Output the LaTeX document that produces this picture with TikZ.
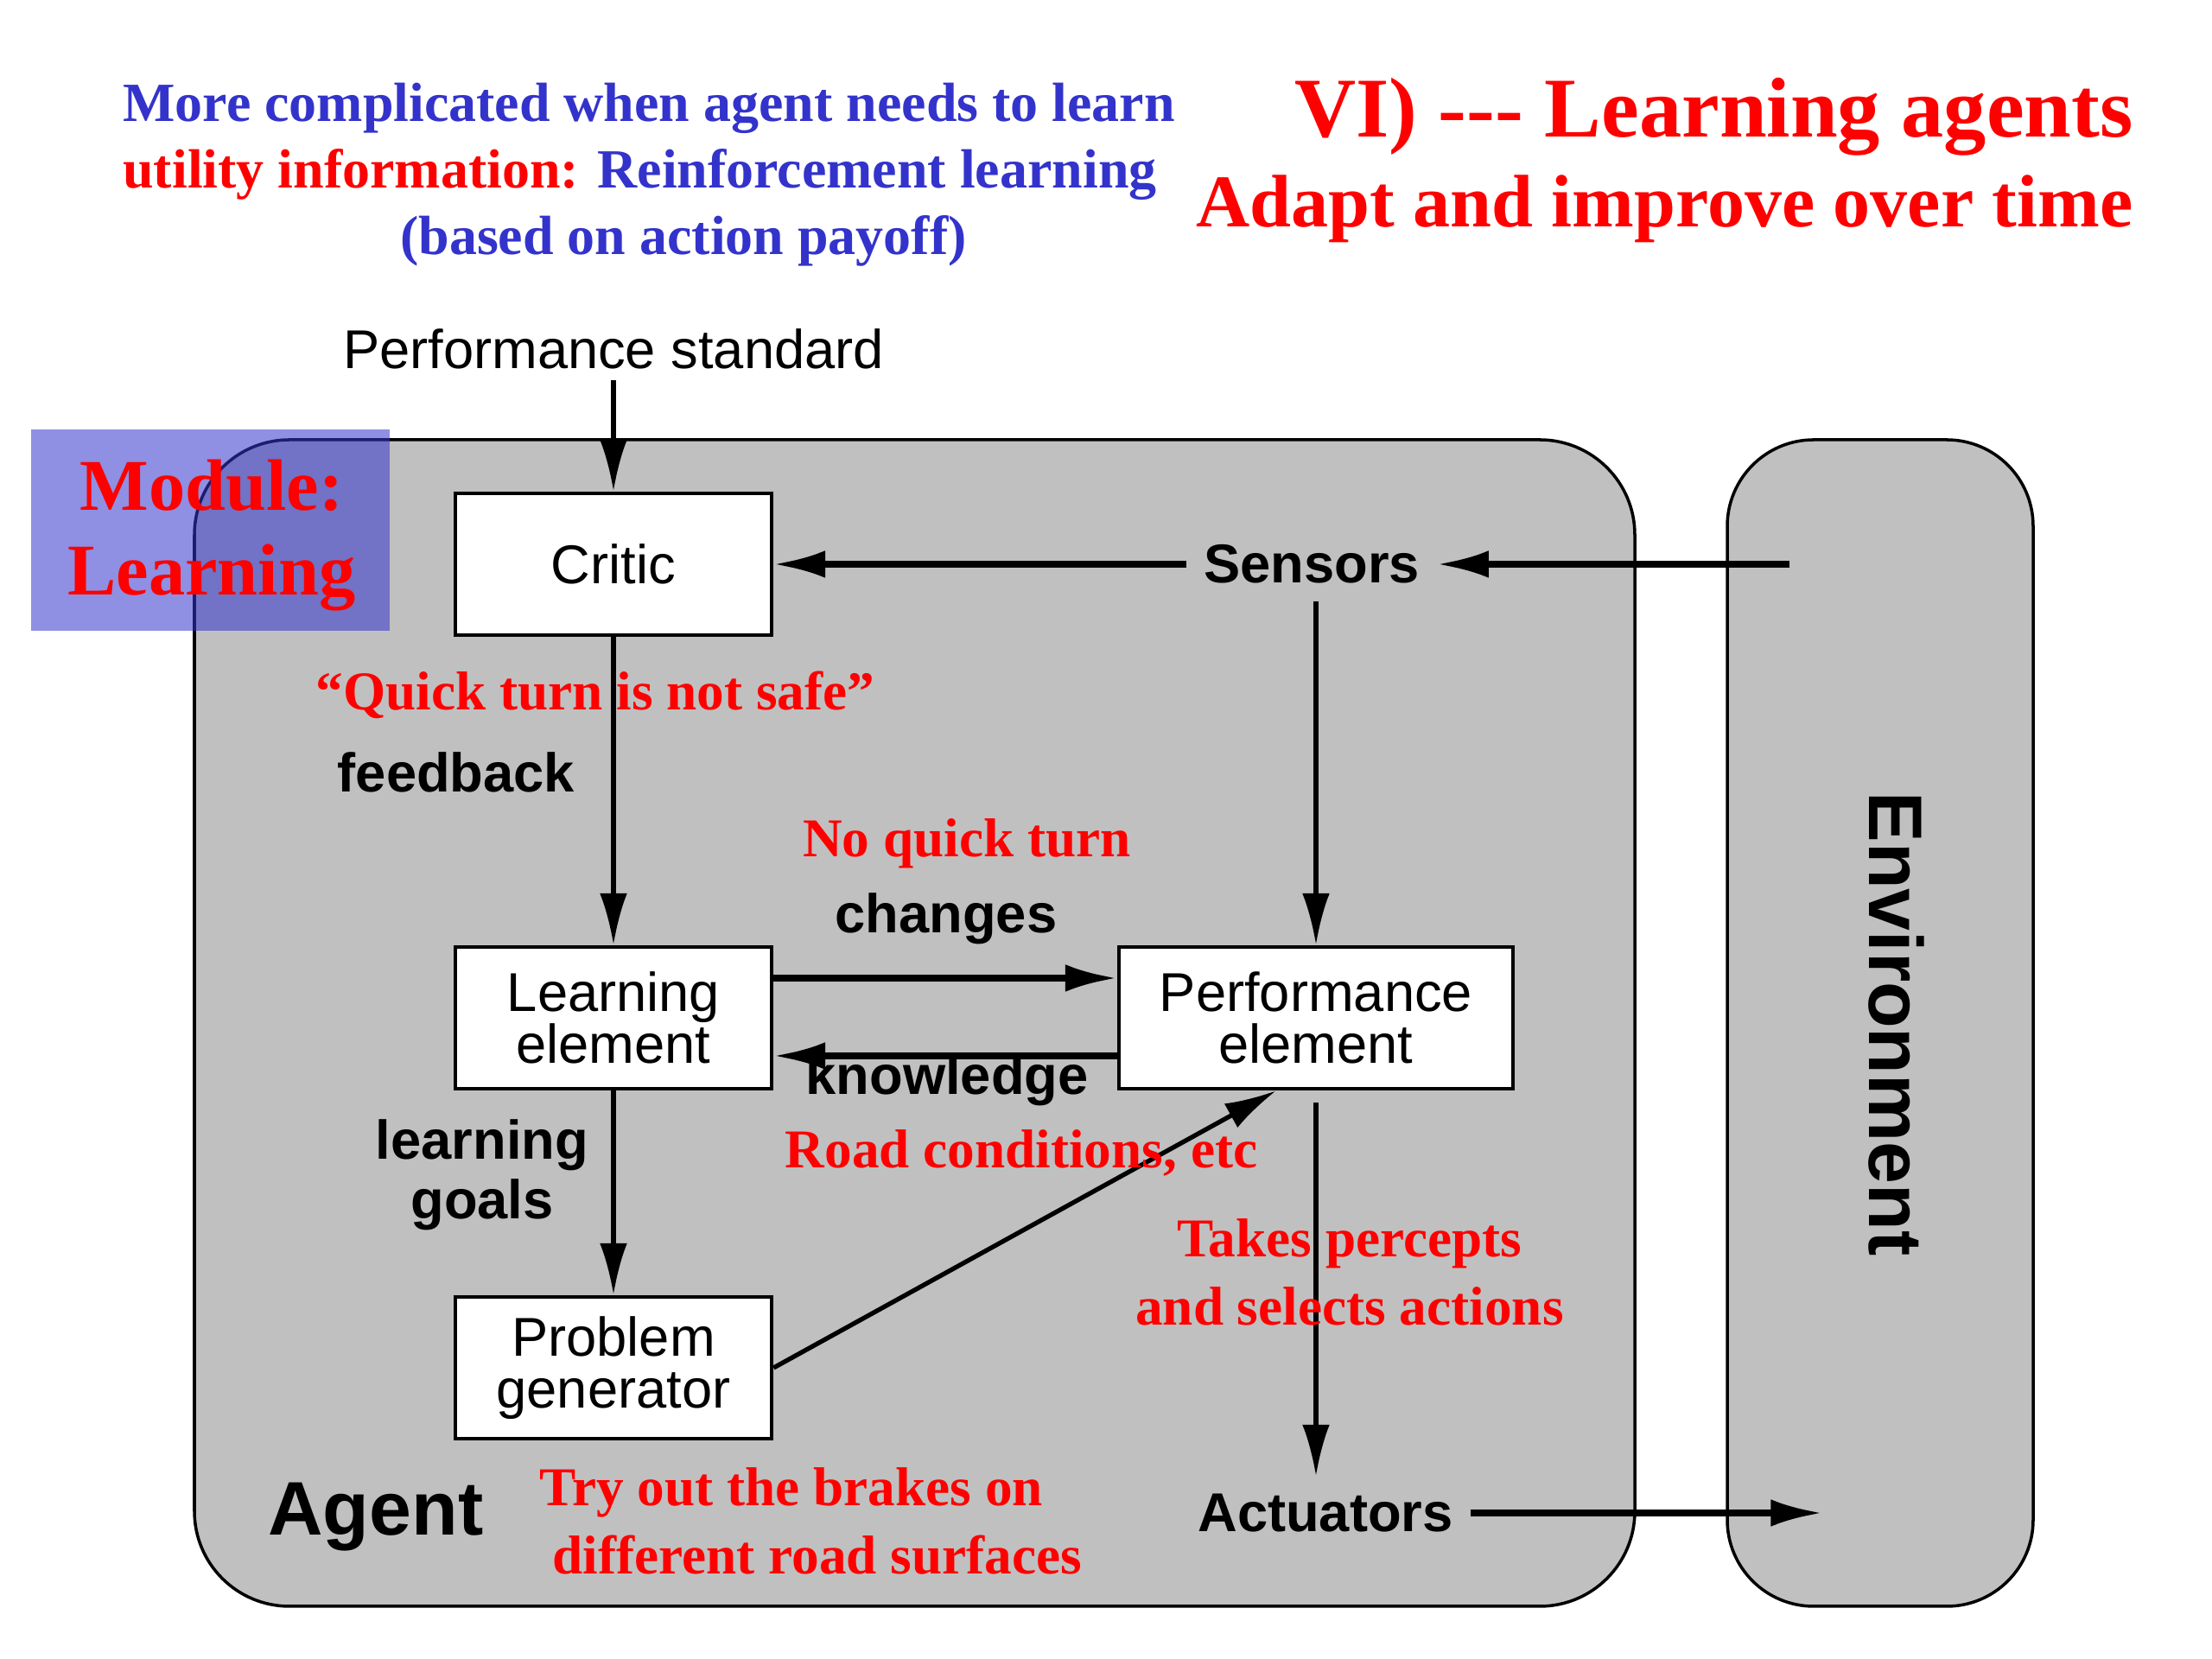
\documentclass[tikz,border=0pt]{standalone}
\usepackage{fontspec}
\setmainfont{Liberation Serif}
\setsansfont{Liberation Sans}
\usetikzlibrary{arrows.meta}
\definecolor{slideblue}{RGB}{51,51,204}
\definecolor{agentgray}{RGB}{192,192,192}
\tikzset{
  box/.style={draw, fill=white, line width=1.3pt, minimum width=3.66cm, minimum height=1.64cm,
    inner sep=0pt, align=center, font=\sffamily\fontsize{18}{17}\selectfont},
  lbl/.style={font=\sffamily\bfseries\fontsize{18}{20}\selectfont, align=center},
  note/.style={text=red, font=\bfseries\fontsize{18}{22.5}\selectfont, align=center},
  arr/.style={-{Latex[length=17pt,width=9pt]}, line width=1.5pt},
  thickarr/.style={arr, line width=2.1pt},
}
\begin{document}
\begin{tikzpicture}
\useasboundingbox (0,0) rectangle (25.6,19.2);

\node[anchor=base west, text=slideblue, font=\bfseries\fontsize{18.2}{22}\selectfont] (top1) at (1.3,17.79)
{More complicated when agent needs to learn};
\node[anchor=base west, text=slideblue, font=\bfseries\fontsize{18.2}{22}\selectfont] (top2) at (1.3,17.02)
{\textcolor{red}{utility information:} Reinforcement learning};
\node[anchor=base, text=slideblue, font=\bfseries\fontsize{18.2}{22}\selectfont] (top3) at (7.91,16.25)
{(based on action payoff)};

\node[anchor=base east, text=red, font=\bfseries\fontsize{28}{30}\selectfont] (title) at (24.81,17.61)
{VI) \mbox{-}\mbox{-}\mbox{-} Learning agents};
\node[anchor=base east, text=red, font=\bfseries\fontsize{24.5}{28}\selectfont] (subtitle) at (24.81,16.57)
{Adapt and improve over time};

\draw[fill=agentgray, line width=1pt, rounded corners=1.1cm] (2.25,0.61) rectangle (18.92,14.11);
\draw[fill=agentgray, line width=1pt, rounded corners=1cm] (19.99,0.61) rectangle (23.53,14.11);
\fill[slideblue, fill opacity=0.55] (0.36,11.90) rectangle (4.51,14.23);
\node[text=red, font=\bfseries\fontsize{24}{27.9}\selectfont, align=center] (module) at (2.45,13.0) {Module:\\Learning};

\node[font=\sffamily\fontsize{18}{20}\selectfont] (std) at (7.10,15.16) {Performance standard};
\node[box] (critic) at (7.10,12.67) {Critic};
\node[box] (lrn) at (7.10,7.42) {Learning\\element};
\node[box, minimum width=4.56cm] (perf) at (15.23,7.42) {Performance\\element};
\node[box] (pg) at (7.10,3.37) {Problem\\generator};
\node[lbl, inner sep=5.6pt] (sens) at (15.18,12.67) {Sensors};
\node[lbl, inner sep=5.6pt] (act) at (15.34,1.69) {Actuators};
\node[font=\sffamily\bfseries\fontsize{25}{28}\selectfont, rotate=-90] (env) at (21.95,7.35) {Environment};
\node[font=\sffamily\bfseries\fontsize{25}{28}\selectfont] (agent) at (4.35,1.64) {Agent};
\coordinate (envin) at (20.71,12.67);
\coordinate (envout) at (21.09,1.69);

\node[lbl] (fb) at (5.28,10.26) {feedback};
\node[lbl] (chg) at (10.95,8.57) {changes};
\node[lbl] (know) at (10.96,6.70) {knowledge};
\node[lbl, font=\sffamily\bfseries\fontsize{18}{19.5}\selectfont] (goals) at (5.58,5.60) {learning\\goals};

\draw[arr] (std) -- (critic);
\draw[thickarr] (envin) -- (sens);
\draw[thickarr] (sens) -- (critic);
\draw[arr] (perf.north |- sens.south) -- (perf.north);
\draw[arr] (critic) -- (lrn);
\draw[thickarr] ([yshift=0.46cm]lrn.east) -- ([yshift=0.46cm]perf.west);
\draw[thickarr] ([yshift=-0.44cm]perf.west) -- ([yshift=-0.44cm]lrn.east);
\draw[arr] (lrn) -- (pg);
\draw[arr] (pg.east) -- ([xshift=-0.46cm]perf.south);
\draw[arr] ([yshift=-4pt]perf.south) -- (perf.south |- act.north);
\draw[thickarr] (act) -- (envout);

\node[note] (quick) at (6.89,11.16) {``Quick turn is not safe''};
\node[note] (noquick) at (11.19,9.44) {No quick turn};
\node[note] (road) at (11.82,5.86) {Road conditions, etc};
\node[note] (takes) at (15.62,4.48) {Takes percepts\\and selects actions};
\node[note] (brakes) at (9.16,1.60) {Try out the brakes on\\\hspace*{0.6cm}different road surfaces};
\end{tikzpicture}
\end{document}
